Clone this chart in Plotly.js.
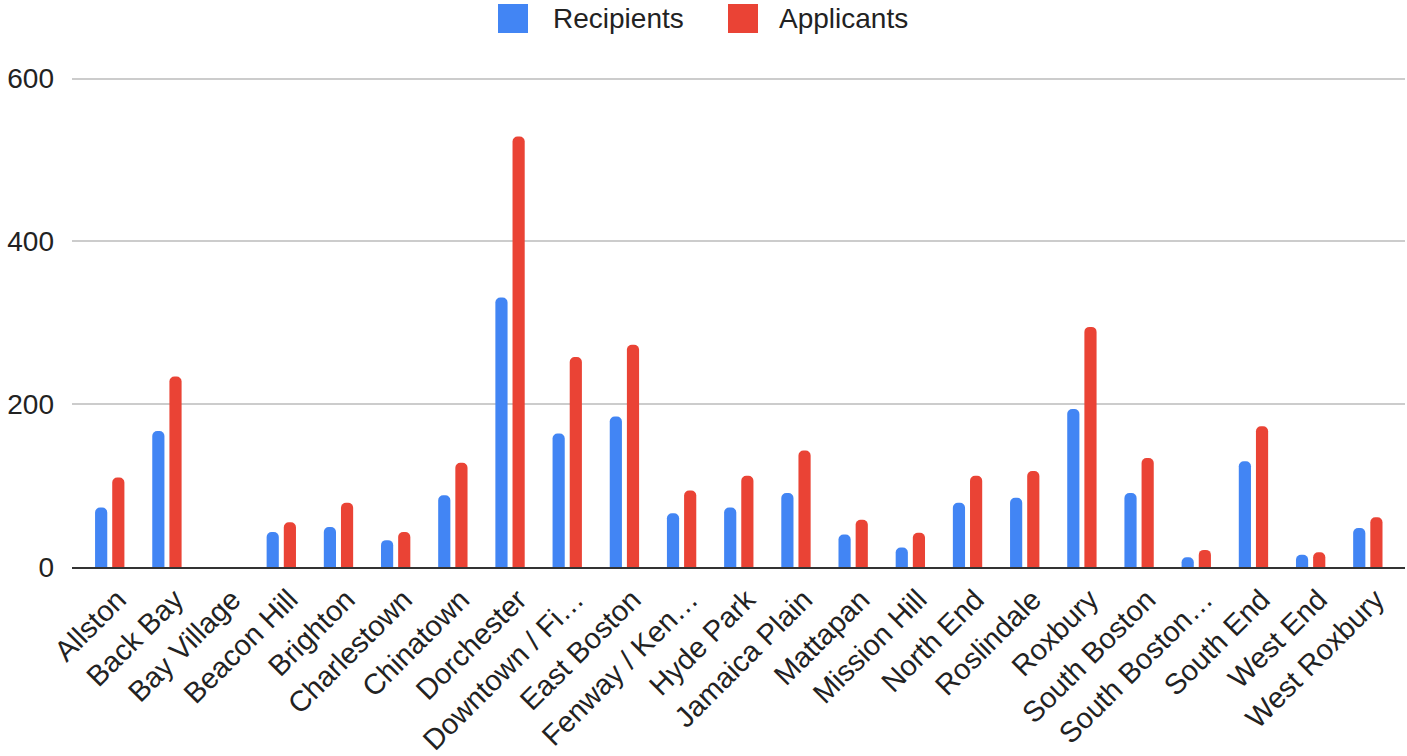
<!DOCTYPE html>
<html>
<head>
<meta charset="utf-8">
<script src="https://cdn.plot.ly/plotly-3.0.1.min.js"></script>
<style>
  html, body { margin: 0; padding: 0; background: #fff; }
  #chart { width: 1407px; height: 756px; }
</style>
</head>
<body>
<div id="chart"></div>
<script>
// ---- Data ----
const neighborhoods = [
  "Allston", "Back Bay", "Bay Village", "Beacon Hill", "Brighton", "Charlestown",
  "Chinatown", "Dorchester", "Downtown / Fi…", "East Boston", "Fenway / Ken…",
  "Hyde Park", "Jamaica Plain", "Mattapan", "Mission Hill", "North End",
  "Roslindale", "Roxbury", "South Boston", "South Boston…", "South End",
  "West End", "West Roxbury"
];
const recipients = [73, 167, 0, 43, 49, 33, 88, 331, 164, 185, 66, 73, 91, 40, 24, 79, 85, 194, 91, 12, 130, 15, 48];
const applicants = [110, 234, 0, 55, 79, 43, 128, 529, 258, 273, 94, 112, 143, 58, 42, 112, 118, 295, 134, 21, 173, 18, 61];
const seriesNames = ["Recipients", "Applicants"];
const yTicks = [0, 200, 400, 600];

// ---- Style ----
const BLUE = "#4285F4";
const RED = "#EA4335";
const FONT = "Liberation Sans, Arial, Helvetica, sans-serif";
const TEXT = "#222222";

const W = 1407, H = 756;
const yMax = 602;
const plotLeft = 72, plotRight = 1405, plotBottom = 567;
const zeroPx = 567, sixHundredPx = 79;
const unitPx = (zeroPx - sixHundredPx) / 600;
const plotTop = Math.round(zeroPx - yMax * unitPx);
const pw = plotRight - plotLeft, ph = plotBottom - plotTop;
const px2x = p => (p - plotLeft) / pw;
const px2y = p => (plotBottom - p) / ph;

const traces = [
  { type: "bar", name: seriesNames[0], x: neighborhoods, y: recipients,
    marker: { color: BLUE, cornerradius: 5 }, hoverinfo: "x+y+name" },
  { type: "bar", name: seriesNames[1], x: neighborhoods, y: applicants,
    marker: { color: RED, cornerradius: 5 }, hoverinfo: "x+y+name" }
];

// custom legend (large squares like the reference)
const legendItems = [
  { color: BLUE, name: seriesNames[0], sq: [498, 528], tx: 551 },
  { color: RED, name: seriesNames[1], sq: [728, 758], tx: 777 }
];
const shapes = legendItems.map(it => ({
  type: "rect", xref: "paper", yref: "paper",
  x0: px2x(it.sq[0]), x1: px2x(it.sq[1]), y0: px2y(33), y1: px2y(4),
  fillcolor: it.color, line: { width: 0 }
}));
const annotations = legendItems.map(it => ({
  xref: "paper", yref: "paper", x: px2x(it.tx), y: px2y(18),
  xanchor: "left", yanchor: "middle", showarrow: false,
  text: it.name, font: { family: FONT, size: 28, color: TEXT }
}));

const layout = {
  width: W, height: H,
  margin: { l: plotLeft, r: W - plotRight, t: plotTop, b: H - plotBottom, pad: 0 },
  paper_bgcolor: "#ffffff", plot_bgcolor: "#ffffff",
  font: { family: FONT, color: TEXT },
  showlegend: false,
  barmode: "group", bargap: 0.40, bargroupgap: 0.29,
  xaxis: {
    type: "category", range: [-0.66, 22.65],
    tickangle: -45, tickfont: { family: FONT, size: 29, color: TEXT },
    ticklabelshift: 8, ticklabelstandoff: 2,
    showgrid: false, showline: true, linecolor: "#333333", linewidth: 2,
    ticks: "", automargin: false, fixedrange: true
  },
  yaxis: {
    range: [0, yMax], tickvals: yTicks, ticktext: yTicks.map(String),
    tickfont: { family: FONT, size: 28, color: TEXT },
    showgrid: true, gridcolor: "#cccccc", gridwidth: 2,
    zeroline: false, showline: false, ticks: "",
    ticklabelstandoff: 17, automargin: false, fixedrange: true
  },
  shapes: shapes,
  annotations: annotations
};

Plotly.newPlot("chart", traces, layout, { displayModeBar: false, staticPlot: true });
</script>
</body>
</html>
